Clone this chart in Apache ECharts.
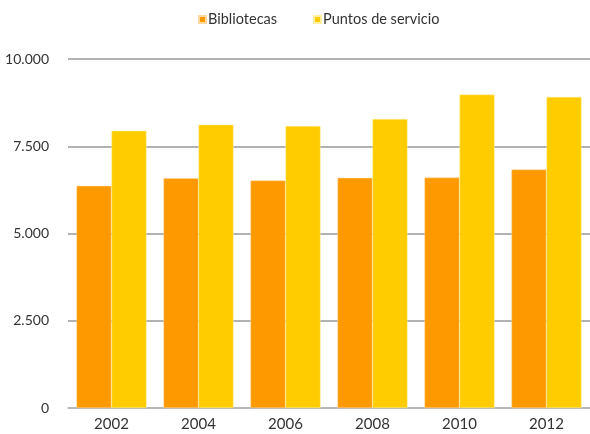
<!DOCTYPE html>
<html lang="en">
<head>
  <meta charset="UTF-8">
  <title>Bibliotecas y puntos de servicio</title>
  <style type="text/css">
    html, body { margin: 0; padding: 0; background: #fff; }
    #chart { width: 590px; height: 434px; }
  </style>
</head>
<body>
  <div id="chart"></div>
  <script src="https://cdn.jsdelivr.net/npm/echarts@6/dist/echarts.min.js"></script>
  <script>
    const years = ['2002', '2004', '2006', '2008', '2010', '2012']
    const bibliotecas = [6365, 6586, 6517, 6595, 6603, 6833]
    const puntos = [7945, 8118, 8080, 8282, 8980, 8914]

    const myChart = echarts.init(document.getElementById('chart'))

    const fmt = v => String(v).replace(/\B(?=(\d{3})+(?!\d))/g, '.')

    const option = {
      animation: false,
      textStyle: { fontFamily: 'Lato' },
      legend: {
        top: 7,
        left: 193,
        itemWidth: 7,
        itemHeight: 7,
        itemGap: 36,
        icon: 'rect',
        textStyle: { fontSize: 14.5, color: '#333', padding: [0, 0, 0, -3] },
        data: ['Bibliotecas', 'Puntos de servicio']
      },
      grid: { left: 68, right: 0, top: 59, bottom: 26 },
      xAxis: {
        type: 'category',
        data: years,
        axisTick: { show: false },
        axisLine: { lineStyle: { color: '#bbb', width: 1.5 } },
        axisLabel: { fontSize: 15, color: '#333', margin: 9 }
      },
      yAxis: {
        type: 'value',
        min: 0,
        max: 10000,
        interval: 2500,
        axisLabel: { fontSize: 14, color: '#333', margin: 19, formatter: fmt },
        splitLine: { lineStyle: { color: '#999', width: 1.5 } }
      },
      series: [
        {
          name: 'Bibliotecas',
          type: 'bar',
          data: bibliotecas,
          barWidth: 35,
          barGap: 0,
          itemStyle: { color: '#FF9900', borderColor: '#FFD9A0', borderWidth: 0.5 }
        },
        {
          name: 'Puntos de servicio',
          type: 'bar',
          data: puntos,
          barWidth: 35,
          itemStyle: { color: '#FFCC00', borderColor: '#FFEFA0', borderWidth: 0.5 }
        }
      ]
    }

    myChart.setOption(option)
  </script>
</body>
</html>
